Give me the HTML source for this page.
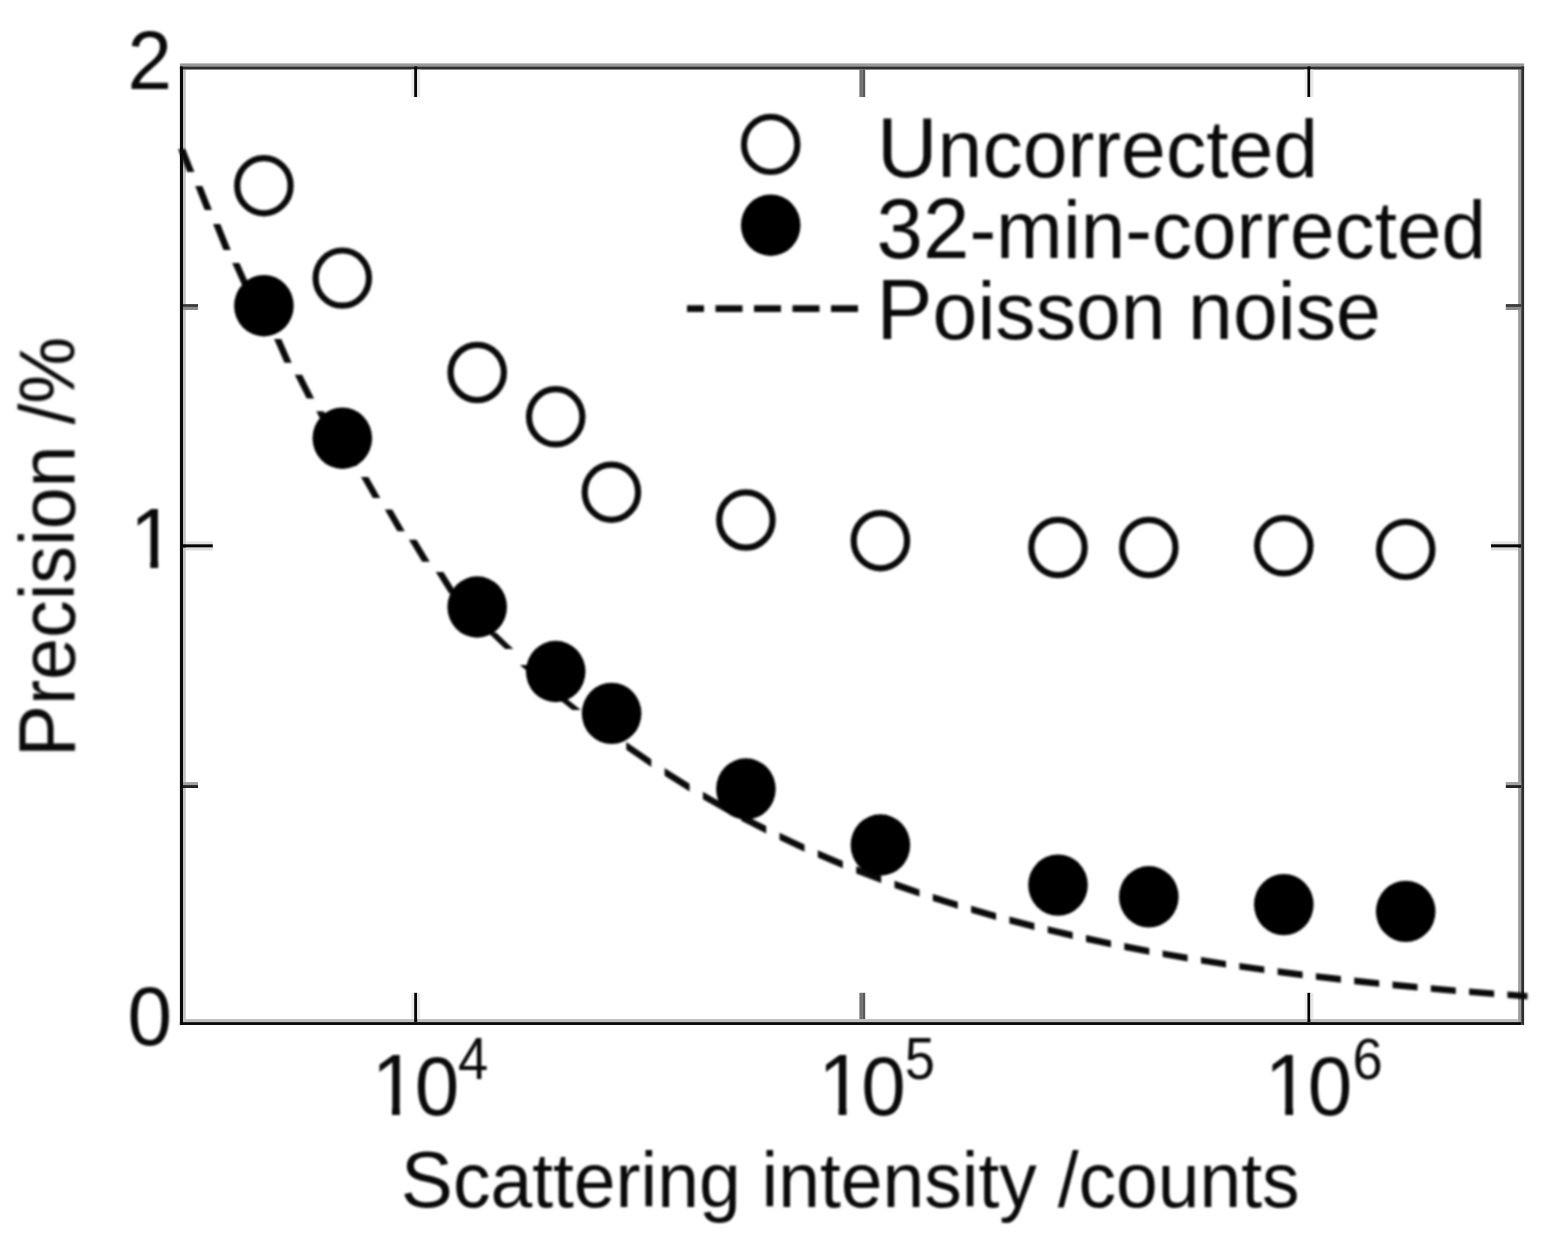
<!DOCTYPE html>
<html lang="en"><head><meta charset="utf-8"><title>Precision vs scattering intensity</title>
<style>
html,body{margin:0;padding:0;background:#fff;}
body{width:1546px;height:1234px;overflow:hidden;}
svg{display:block;}
text{font-family:"Liberation Sans",sans-serif;fill:#0a0a0a;}
</style></head><body>
<svg width="1546" height="1234" viewBox="0 0 1546 1234">
<defs>
<clipPath id="nofoot"><path d="M-5,-90 H140 V-7.9 H-5 Z M20.6,-7.9 H28.5 V3 H20.6 Z M44.5,-7.9 H140 V3 H44.5 Z"/></clipPath>
<filter id="soft" x="0" y="0" width="1546" height="1234" filterUnits="userSpaceOnUse" color-interpolation-filters="sRGB"><feGaussianBlur stdDeviation="0.80"/></filter>
</defs>
<rect id="bg" x="0" y="0" width="1546" height="1234" fill="#fff"/>
<g id="frame">
<rect x="183.00" y="69.55" width="2.80" height="949.50" fill="#c2c2c2"/>
<rect x="1518.10" y="69.55" width="3.10" height="952.60" fill="#9e9e9e"/>
<rect x="183.00" y="1019.05" width="1335.10" height="3.10" fill="#bfbfbf"/>
<rect x="179.90" y="63.40" width="1344.20" height="3.05" fill="#999"/>
<rect x="179.90" y="66.45" width="1344.20" height="3.10" fill="#2e2e2e"/>
<rect x="179.90" y="66.45" width="3.10" height="958.50" fill="#0a0a0a"/>
<rect x="1521.20" y="66.45" width="2.90" height="958.50" fill="#2e2e2e"/>
<rect x="179.90" y="1022.15" width="1341.30" height="2.80" fill="#080808"/>
</g>
<g id="ticks">
<rect x="411.20" y="69.55" width="3.00" height="27.45" fill="#ececec"/>
<rect x="411.20" y="992.80" width="3.00" height="26.25" fill="#ececec"/>
<rect x="414.20" y="66.45" width="3.00" height="30.55" fill="#050505"/>
<rect x="414.20" y="992.80" width="3.00" height="29.35" fill="#050505"/>
<rect x="417.20" y="69.55" width="3.00" height="27.45" fill="#e8e8e8"/>
<rect x="417.20" y="992.80" width="3.00" height="26.25" fill="#e8e8e8"/>
<rect x="859.40" y="69.55" width="2.90" height="27.45" fill="#707070"/>
<rect x="859.40" y="992.80" width="2.90" height="26.25" fill="#707070"/>
<rect x="862.30" y="69.55" width="2.90" height="27.45" fill="#585858"/>
<rect x="862.30" y="992.80" width="2.90" height="26.25" fill="#585858"/>
<rect x="1304.40" y="69.55" width="3.00" height="27.45" fill="#f0f0f0"/>
<rect x="1304.40" y="992.80" width="3.00" height="26.25" fill="#f0f0f0"/>
<rect x="1307.40" y="66.45" width="3.00" height="30.55" fill="#050505"/>
<rect x="1307.40" y="992.80" width="3.00" height="29.35" fill="#050505"/>
<rect x="1310.40" y="69.55" width="3.00" height="27.45" fill="#e8e8e8"/>
<rect x="1310.40" y="992.80" width="3.00" height="26.25" fill="#e8e8e8"/>
<rect x="183.00" y="304.10" width="15.00" height="2.85" fill="#3a3a3a"/>
<rect x="1505.80" y="304.10" width="15.40" height="2.85" fill="#3a3a3a"/>
<rect x="183.00" y="306.95" width="15.00" height="3.05" fill="#8a8a8a"/>
<rect x="1505.80" y="306.95" width="15.40" height="3.05" fill="#8a8a8a"/>
<rect x="185.80" y="541.30" width="27.00" height="3.00" fill="#e4e4e4"/>
<rect x="1491.00" y="541.30" width="27.10" height="3.00" fill="#e4e4e4"/>
<rect x="183.00" y="544.30" width="29.80" height="3.30" fill="#050505"/>
<rect x="1491.00" y="544.30" width="30.20" height="3.30" fill="#050505"/>
<rect x="185.80" y="547.60" width="27.00" height="2.90" fill="#dcdcdc"/>
<rect x="1491.00" y="547.60" width="27.10" height="2.90" fill="#dcdcdc"/>
<rect x="183.00" y="782.10" width="15.00" height="3.00" fill="#a0a0a0"/>
<rect x="1505.80" y="782.10" width="15.40" height="3.00" fill="#a0a0a0"/>
<rect x="183.00" y="785.10" width="15.00" height="2.90" fill="#222"/>
<rect x="1505.80" y="785.10" width="15.40" height="2.90" fill="#222"/>
</g>
<g id="plot" filter="url(#soft)">
<path id="curve" fill="#0a0a0a" d="M178.1,149.0 L185.3,149.0 L194.4,172.0 L187.2,172.0Z M195.2,186.0 L202.4,186.0 L211.9,209.9 L204.7,209.9Z M213.1,224.1 L220.3,224.1 L230.7,250.0 L223.5,250.0Z M232.2,263.0 L239.4,263.0 L250.1,287.0 L242.9,287.0Z M252.9,301.0 L260.1,301.0 L270.6,325.0 L263.4,325.0Z M274.1,338.9 L281.3,338.9 L291.7,362.8 L284.5,362.8Z M294.7,374.7 L302.1,374.7 L314.1,398.5 L306.7,398.5Z M316.3,411.2 L323.7,411.2 L335.2,434.0 L327.8,434.0Z M338.3,444.0 L345.7,444.0 L357.2,466.0 L349.8,466.0Z M361.0,476.9 L368.4,476.9 L380.3,497.9 L372.9,497.9Z M384.8,509.5 L392.2,509.5 L404.8,531.3 L397.4,531.3Z M408.9,539.7 L416.5,539.7 L429.8,561.8 L422.2,561.8Z M435.8,572.1 L443.4,572.1 L456.8,593.5 L449.2,593.5Z M461.6,603.5 L469.4,603.5 L483.9,621.5 L476.1,621.5Z M487.9,632.5 L496.1,632.5 L513.3,649.1 L505.1,649.1Z M519.8,665.0 L528.2,665.0 L544.2,678.5 L535.8,678.5Z M551.7,693.5 L560.3,693.5 L580.9,710.0 L572.3,710.0Z M588.0,713.0 L613.0,732.1 L613.0,740.0 L588.0,720.9Z M626.3,741.9 L651.3,759.2 L651.3,767.0 L626.3,749.7Z M664.6,768.0 L689.6,783.7 L689.6,791.4 L664.6,775.7Z M702.9,791.8 L727.9,806.0 L727.9,813.5 L702.9,799.3Z M741.2,813.2 L766.2,826.1 L766.2,833.6 L741.2,820.7Z M779.5,832.7 L804.5,844.4 L804.5,851.7 L779.5,840.0Z M817.8,850.3 L842.8,860.9 L842.8,868.2 L817.8,857.6Z M856.2,866.3 L881.2,875.9 L881.2,883.1 L856.2,873.5Z M894.5,880.8 L919.5,889.5 L919.5,896.6 L894.5,887.9Z M932.8,893.9 L957.8,901.8 L957.8,908.8 L932.8,900.9Z M971.1,905.8 L996.1,912.9 L996.1,919.9 L971.1,912.7Z M1009.4,916.5 L1034.4,923.0 L1034.4,929.9 L1009.4,923.4Z M1047.7,926.3 L1072.7,932.1 L1072.7,939.0 L1047.7,933.1Z M1086.0,935.1 L1111.0,940.4 L1111.0,947.2 L1086.0,941.9Z M1124.3,943.1 L1149.3,947.9 L1149.3,954.7 L1124.3,949.9Z M1162.6,950.4 L1187.6,954.7 L1187.6,961.5 L1162.6,957.1Z M1201.0,956.9 L1226.0,960.9 L1226.0,967.6 L1201.0,963.6Z M1239.3,962.9 L1264.3,966.4 L1264.3,973.1 L1239.3,969.6Z M1277.6,968.3 L1302.6,971.5 L1302.6,978.2 L1277.6,974.9Z M1315.9,973.2 L1340.9,976.1 L1340.9,982.7 L1315.9,979.8Z M1354.2,977.6 L1379.2,980.2 L1379.2,986.8 L1354.2,984.2Z M1392.5,981.6 L1417.5,984.0 L1417.5,990.6 L1392.5,988.2Z M1430.8,985.2 L1455.8,987.4 L1455.8,994.0 L1430.8,991.8Z M1469.1,988.5 L1494.1,990.5 L1494.1,997.0 L1469.1,995.1Z M1507.4,991.5 L1527.5,992.9 L1527.5,999.5 L1507.4,998.0Z"/>
<g id="open" fill="#fff" stroke="#0a0a0a" stroke-width="6.2">
<ellipse cx="263.9" cy="185.7" rx="26.7" ry="27.6"/>
<ellipse cx="342.3" cy="278.1" rx="26.7" ry="27.6"/>
<ellipse cx="477.2" cy="372.5" rx="26.7" ry="27.6"/>
<ellipse cx="555.7" cy="416.8" rx="26.7" ry="27.6"/>
<ellipse cx="611.4" cy="492.2" rx="26.7" ry="27.6"/>
<ellipse cx="745.9" cy="520.0" rx="26.7" ry="27.6"/>
<ellipse cx="880.4" cy="540.7" rx="26.7" ry="27.6"/>
<ellipse cx="1058.0" cy="547.5" rx="26.7" ry="27.6"/>
<ellipse cx="1148.8" cy="547.5" rx="26.7" ry="27.6"/>
<ellipse cx="1283.8" cy="545.8" rx="26.7" ry="27.6"/>
<ellipse cx="1405.7" cy="549.4" rx="26.7" ry="27.6"/>
</g>
<g id="filled" fill="#000">
<ellipse cx="263.9" cy="305.7" rx="29.8" ry="30.7"/>
<ellipse cx="342.3" cy="438.2" rx="29.8" ry="30.7"/>
<ellipse cx="477.2" cy="607.0" rx="29.8" ry="30.7"/>
<ellipse cx="555.7" cy="671.5" rx="29.8" ry="30.7"/>
<ellipse cx="611.6" cy="713.4" rx="29.8" ry="30.7"/>
<ellipse cx="745.9" cy="789.0" rx="29.8" ry="30.7"/>
<ellipse cx="880.4" cy="845.0" rx="29.8" ry="30.7"/>
<ellipse cx="1058.0" cy="885.1" rx="29.8" ry="30.7"/>
<ellipse cx="1148.8" cy="896.8" rx="29.8" ry="30.7"/>
<ellipse cx="1283.8" cy="904.6" rx="29.8" ry="30.7"/>
<ellipse cx="1405.7" cy="911.4" rx="29.8" ry="30.7"/>
</g>
<g id="legend">
<ellipse cx="770.7" cy="144.4" rx="26.7" ry="27.6" fill="#fff" stroke="#0a0a0a" stroke-width="6.2"/>
<ellipse cx="770.7" cy="225.2" rx="29.8" ry="30.7" fill="#000"/>
<path d="M687,308.6 H858" fill="none" stroke="#0a0a0a" stroke-width="6.6" stroke-dasharray="27 11.5" stroke-dashoffset="10"/>
</g>
<text id="leg1" transform="translate(877.00,177.40) scale(1.0070,1.0250)" font-size="80" text-anchor="start"><tspan font-size="83.3">U</tspan>ncorrected</text>
<text id="leg2" transform="translate(876.60,258.10) scale(1.0020,1.0250)" font-size="80" text-anchor="start"><tspan font-size="83.3">32</tspan>-min-corrected</text>
<text id="leg3" transform="translate(876.60,339.10) scale(1.0080,1.0250)" font-size="80" text-anchor="start"><tspan font-size="83.3">P</tspan>oisson noise</text>
<text id="y2" transform="translate(172.00,88.50) scale(1.0000,1.0400)" font-size="80" text-anchor="end">2</text>
<text id="y1" transform="translate(129.70,567.50) scale(1.0000,1.0230)" font-size="83" text-anchor="start" clip-path="url(#nofoot)">1</text>
<text id="y0" transform="translate(172.00,1045.00) scale(1.0000,1.0400)" font-size="80" text-anchor="end">0</text>
<text id="x4" transform="translate(371.40,1115.00) scale(1.0000,1.0400)" font-size="80" text-anchor="start" clip-path="url(#nofoot)"><tspan font-size="83">1</tspan><tspan dx="-2.9">0</tspan></text>
<text id="s4" transform="translate(458.10,1079.30) scale(0.9700,1.0700)" font-size="56" text-anchor="start">4</text>
<text id="x5" transform="translate(818.00,1115.00) scale(1.0000,1.0400)" font-size="80" text-anchor="start" clip-path="url(#nofoot)"><tspan font-size="83">1</tspan><tspan dx="-2.9">0</tspan></text>
<text id="s5" transform="translate(904.70,1079.30) scale(0.9700,1.0700)" font-size="56" text-anchor="start">5</text>
<text id="x6" transform="translate(1264.60,1115.00) scale(1.0000,1.0400)" font-size="80" text-anchor="start" clip-path="url(#nofoot)"><tspan font-size="83">1</tspan><tspan dx="-2.9">0</tspan></text>
<text id="s6" transform="translate(1352.50,1079.30) scale(0.9700,1.0200)" font-size="56" text-anchor="start">6</text>
<text id="xlab" transform="translate(400.80,1207.50) scale(0.9966,1.0250)" font-size="75.3" text-anchor="start"><tspan font-size="78.4">S</tspan>cattering intensity /counts</text>
<text id="ylab" transform="translate(74.30,757.20) rotate(-90) scale(1.0000,1.0250)" font-size="75.3" text-anchor="start"><tspan font-size="78.4">P</tspan>recision /%</text>
</g>
</svg>
</body></html>
